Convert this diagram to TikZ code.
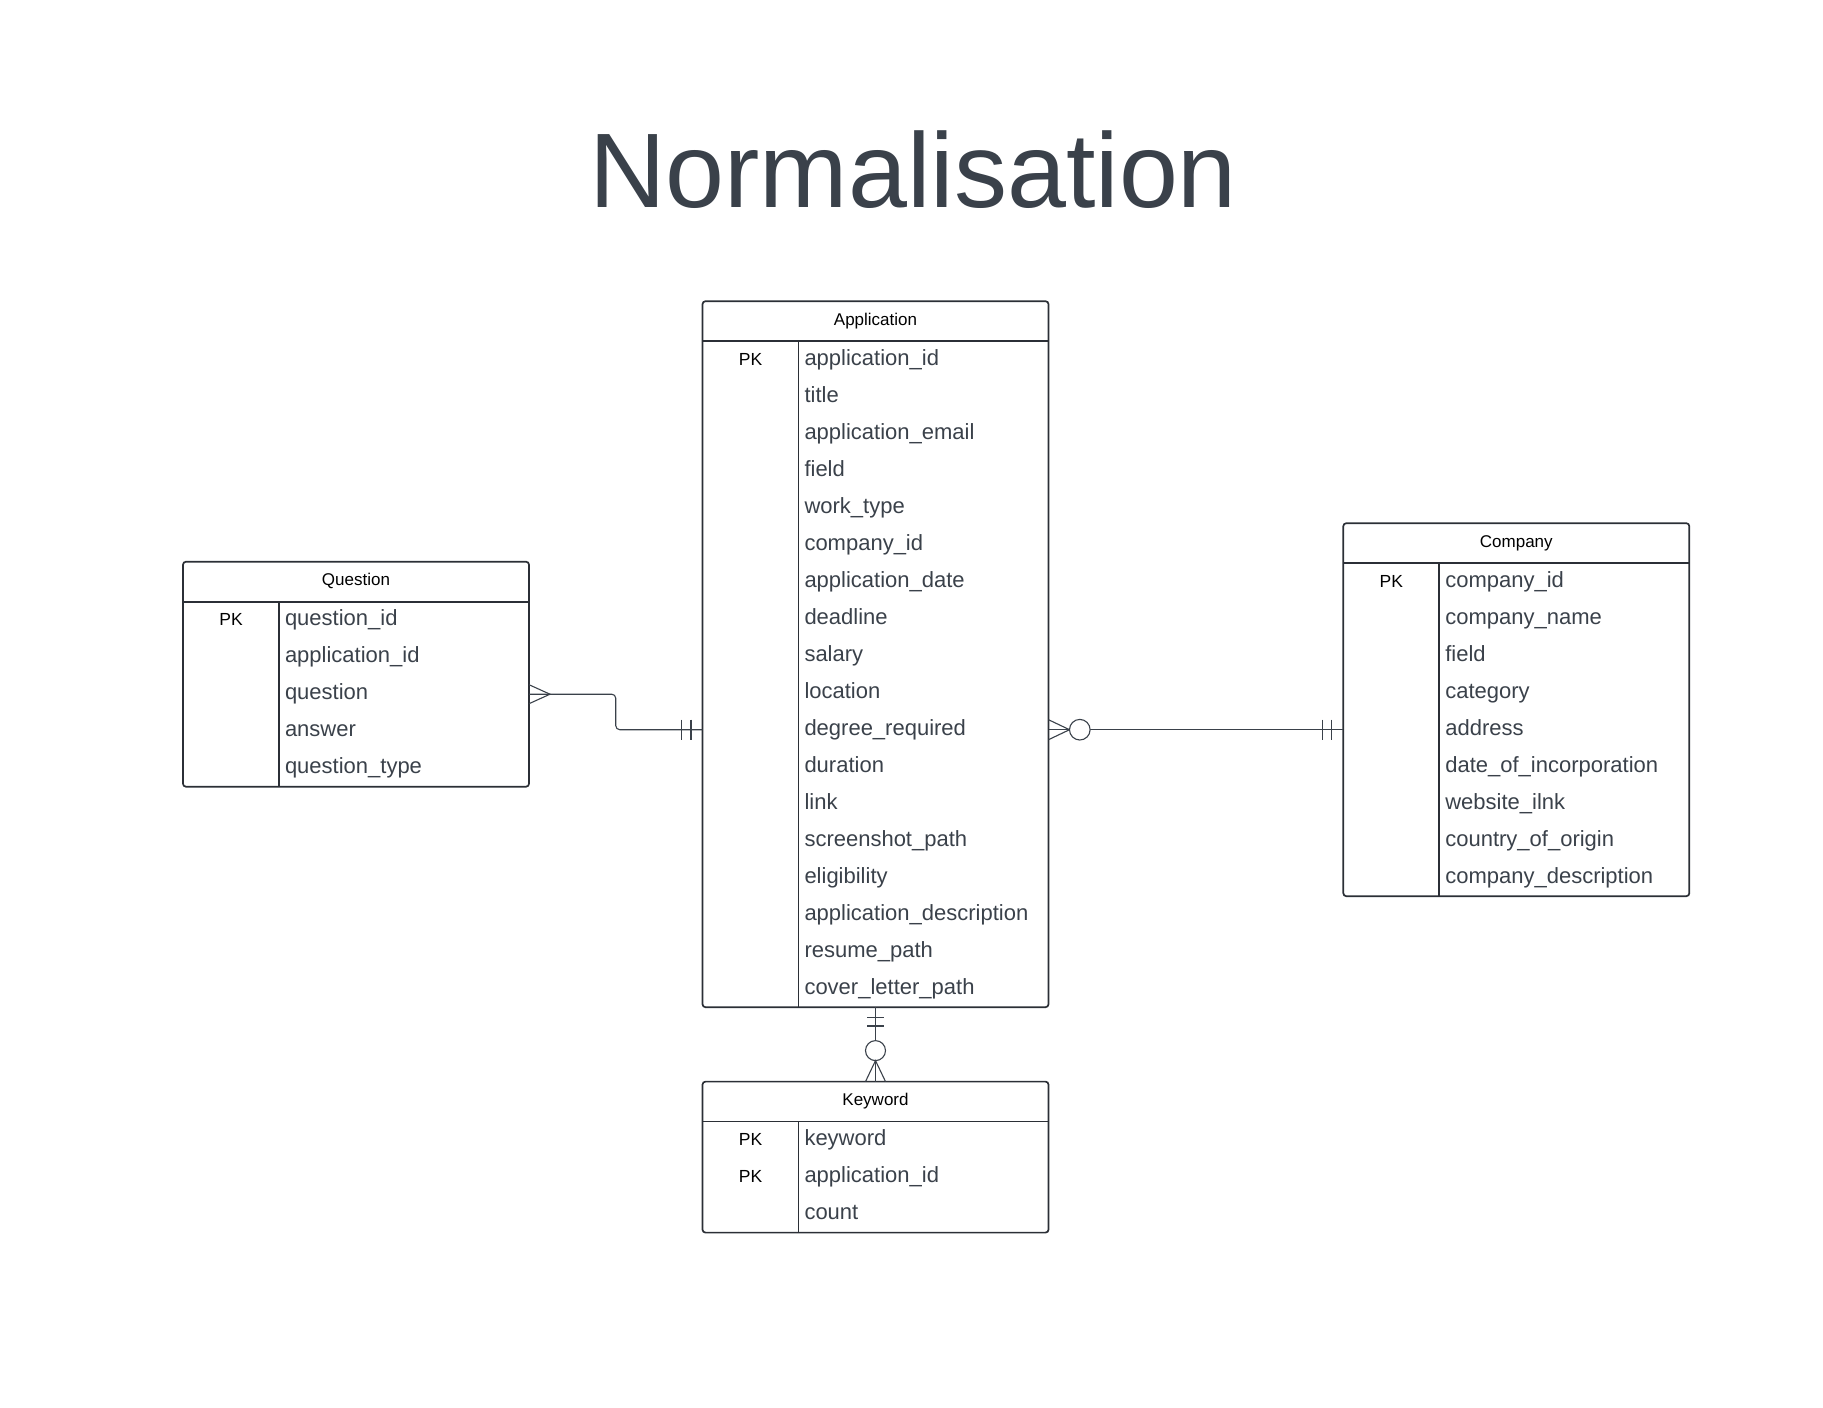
\documentclass[tikz,border=0pt]{standalone}
\usepackage{fontspec}
\setmainfont{Liberation Sans}
\usetikzlibrary{positioning,calc}
\definecolor{inkgray}{HTML}{3A414A}
\definecolor{edgegray}{HTML}{2B2F36}

\begin{document}
\begin{tikzpicture}[x=1pt, y=-1pt,
  every node/.style={inner sep=0pt, outer sep=0pt},
  hdr/.style={minimum width=346pt, minimum height=40pt, text height=13pt, text depth=5pt, font=\fontsize{17}{20}\selectfont},
  fld/.style={minimum height=37pt, text width=238pt, inner xsep=6pt, align=left, text height=16pt, text depth=5pt, text=inkgray, font=\fontsize{22}{26}\selectfont},
  pk/.style={minimum width=96pt, minimum height=37pt, text height=16pt, text depth=5pt, font=\fontsize{17.5}{20}\selectfont},
  tbl/.style={draw=edgegray, line width=1.7pt, rounded corners=3pt},
  rel/.style={draw=inkgray, line width=1.1pt}]
  \useasboundingbox (0,0) rectangle (1823,1408);

  \node [anchor=base, text=inkgray, font=\fontsize{106}{112}\selectfont] (title) at (913,207.3) {Normalisation};

  % Application
  \node [hdr] (app) at (875.5,321.2) {Application};
  \node [fld, anchor=north east] (a1) at (app.south east) {application\_id};
  \node [fld, below=0pt of a1] (a2) {title};
  \node [fld, below=0pt of a2] (a3) {application\_email};
  \node [fld, below=0pt of a3] (a4) {field};
  \node [fld, below=0pt of a4] (a5) {work\_type};
  \node [fld, below=0pt of a5] (a6) {company\_id};
  \node [fld, below=0pt of a6] (a7) {application\_date};
  \node [fld, below=0pt of a7] (a8) {deadline};
  \node [fld, below=0pt of a8] (a9) {salary};
  \node [fld, below=0pt of a9] (a10) {location};
  \node [fld, below=0pt of a10] (a11) {degree\_required};
  \node [fld, below=0pt of a11] (a12) {duration};
  \node [fld, below=0pt of a12] (a13) {link};
  \node [fld, below=0pt of a13] (a14) {screenshot\_path};
  \node [fld, below=0pt of a14] (a15) {eligibility};
  \node [fld, below=0pt of a15] (a16) {application\_description};
  \node [fld, below=0pt of a16] (a17) {resume\_path};
  \node [fld, below=0pt of a17] (a18) {cover\_letter\_path};
  \node [pk, left=0pt of a1] (apk) {PK};
  \draw [tbl] (app.north west) rectangle (a18.south east);
  \draw [tbl] (app.south west) -- (app.south east);
  \draw [tbl] (a1.north west) -- (a18.south west);

  % Question
  \node [hdr] (qst) at (356,581.7) {Question};
  \node [fld, anchor=north east] (q1) at (qst.south east) {question\_id};
  \node [fld, below=0pt of q1] (q2) {application\_id};
  \node [fld, below=0pt of q2] (q3) {question};
  \node [fld, below=0pt of q3] (q4) {answer};
  \node [fld, below=0pt of q4] (q5) {question\_type};
  \node [pk, left=0pt of q1] (qpk) {PK};
  \draw [tbl] (qst.north west) rectangle (q5.south east);
  \draw [tbl] (qst.south west) -- (qst.south east);
  \draw [tbl] (q1.north west) -- (q5.south west);

  % Company
  \node [hdr] (cmp) at (1516.3,543.2) {Company};
  \node [fld, anchor=north east] (c1) at (cmp.south east) {company\_id};
  \node [fld, below=0pt of c1] (c2) {company\_name};
  \node [fld, below=0pt of c2] (c3) {field};
  \node [fld, below=0pt of c3] (c4) {category};
  \node [fld, below=0pt of c4] (c5) {address};
  \node [fld, below=0pt of c5] (c6) {date\_of\_incorporation};
  \node [fld, below=0pt of c6] (c7) {website\_ilnk};
  \node [fld, below=0pt of c7] (c8) {country\_of\_origin};
  \node [fld, below=0pt of c8] (c9) {company\_description};
  \node [pk, left=0pt of c1] (cpk) {PK};
  \draw [tbl] (cmp.north west) rectangle (c9.south east);
  \draw [tbl] (cmp.south west) -- (cmp.south east);
  \draw [tbl] (c1.north west) -- (c9.south west);

  % Keyword
  \node [hdr] (kwd) at (875.5,1101.6) {Keyword};
  \node [fld, anchor=north east] (k1) at (kwd.south east) {keyword};
  \node [fld, below=0pt of k1] (k2) {application\_id};
  \node [fld, below=0pt of k2] (k3) {count};
  \node [pk, left=0pt of k1] (kpk1) {PK};
  \node [pk, left=0pt of k2] (kpk2) {PK};
  \draw [tbl] (kwd.north west) rectangle (k3.south east);
  \draw [tbl] (kwd.south west) -- (kwd.south east);
  \draw [tbl] (k1.north west) -- (k3.south west);

  % relations
  \coordinate (al) at (app.west |- a11.west);
  \coordinate (cl) at (cmp.west |- c5.west);
  \coordinate (kt) at (kwd.north |- a18.south);
  \coordinate (qm) at ($(q3.east)!.5!(al)$);

  \draw [rel, rounded corners=4pt] (q3.east) -- (q3.east -| qm) -- (qm |- al) -- (al);
  \draw [rel] ([yshift=9.5pt]q3.east) -- ([xshift=21pt]q3.east) -- ([yshift=-9.5pt]q3.east);
  \draw [rel] ([xshift=-11.5pt,yshift=10pt]al) -- ([xshift=-11.5pt,yshift=-10pt]al);
  \draw [rel] ([xshift=-21pt,yshift=10pt]al) -- ([xshift=-21pt,yshift=-10pt]al);

  \draw [rel] (a11.east) -- (cl);
  \draw [rel] ([yshift=10pt]a11.east) -- ([xshift=21pt]a11.east) -- ([yshift=-10pt]a11.east);
  \draw [rel, fill=white] ([xshift=31.3pt]a11.east) circle [radius=10.3pt];
  \draw [rel] ([xshift=-12pt,yshift=10pt]cl) -- ([xshift=-12pt,yshift=-10pt]cl);
  \draw [rel] ([xshift=-21pt,yshift=10pt]cl) -- ([xshift=-21pt,yshift=-10pt]cl);

  \draw [rel] (kt) -- (kwd.north);
  \draw [rel] ([xshift=-8.5pt,yshift=-10.5pt]kt) -- ([xshift=8.5pt,yshift=-10.5pt]kt);
  \draw [rel] ([xshift=-8.5pt,yshift=-18.8pt]kt) -- ([xshift=8.5pt,yshift=-18.8pt]kt);
  \draw [rel, fill=white] ([yshift=31pt]kwd.north) circle [radius=10pt];
  \draw [rel] ([xshift=-10pt]kwd.north) -- ([yshift=21pt]kwd.north) -- ([xshift=10pt]kwd.north);
\end{tikzpicture}
\end{document}
